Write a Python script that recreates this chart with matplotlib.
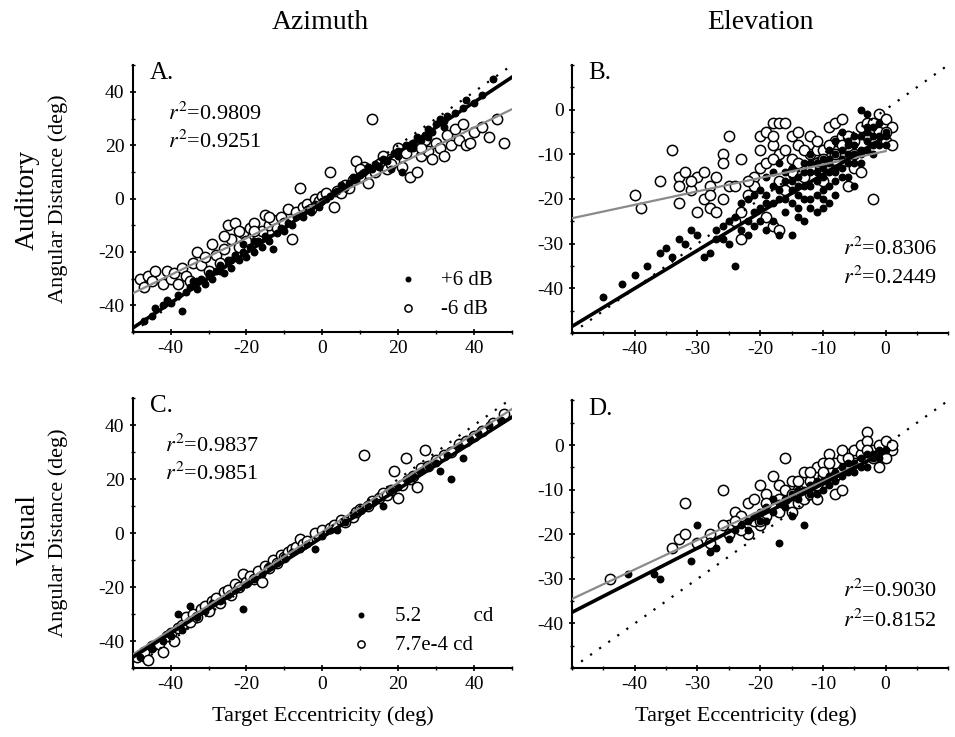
import numpy as np
import matplotlib
matplotlib.use("Agg")
import matplotlib.pyplot as plt

plt.rcParams['font.family'] = ['Liberation Serif', 'DejaVu Serif']
plt.rcParams['mathtext.fontset'] = 'stix'
plt.rcParams['axes.unicode_minus'] = False

# ---- data (deg) ----
# A: auditory azimuth, +6 dB (filled) / -6 dB (open)
a_pos_x = [-47, -45, -44, -42, -41, -40, -38, -37, -36, -35, -34, -33, -32, -31, -30, -29, -28, -27, -26, -25,
           -24, -23, -22, -21, -20, -19, -18, -17, -16, -15, -14, -13, -12, -11, -10, -9, -8, -7, -6, -5,
           -4, -3, -2, -1, 0, 1, 2, 3, 4, 5, 6, 7, 8, 9, 10, 11, 12, 13, 14, 15,
           16, 17, 18, 19, 20, 21, 22, 23, 24, 25, 26, 27, 28, 29, 30, 31, 32, 33, 35, 37,
           38, 40, 42, 45, -33, -30, -27, -24, -21, -18, 20, 24, 28, 32]
a_pos_y = [-46, -44, -41, -40, -38, -39, -36, -42, -35, -33, -31, -34, -30, -32, -28, -30, -27, -25, -28, -23,
           -26, -21, -23, -20, -22, -18, -20, -16, -18, -14, -16, -19, -13, -11, -12, -9, -10, -7, -6, -7,
           -4, -5, -2, -3, -1, 0, 1, 2, 3, 5, 4, 6, 8, 7, 9, 10, 12, 11, 13, 12,
           15, 14, 11, 17, 18, 10, 20, 19, 21, 23, 22, 24, 26, 25, 28, 30, 29, 31, 32, 34,
           37, 36, 39, 45, -31, -29, -27, -23, -17, -16, 16, 19, 23, 27]
a_neg_x = [-48, -47, -46, -45, -44, -42, -41, -40, -39, -38, -37, -36, -35, -34, -33, -32, -31, -30, -29, -28,
           -27, -26, -25, -24, -23, -22, -21, -20, -19, -18, -17, -16, -15, -14, -13, -12, -11, -10, -9, -8,
           -7, -6, -5, -4, -3, -2, -1, 0, 1, 2, 3, 4, 5, 6, 7, 8, 9, 10, 11, 12,
           13, 14, 15, 16, 17, 18, 19, 20, 21, 22, 23, 24, 25, 26, 27, 28, 29, 30, 31, 32,
           33, 34, 35, 36, 37, 38, 39, 40, 42, 44, 46, 48, -26, -22, -18, -14, 10, 18, 26]
a_neg_y = [-30, -33, -29, -31, -27, -32, -27, -30, -28, -32, -26, -29, -31, -24, -20, -25, -22, -27, -17, -21,
           -24, -19, -10, -15, -9, -18, -13, -16, -11, -9, -14, -12, -6, -10, -8, -11, -7, -9, -4, -15,
           -5, 4, -3, -2, -4, 0, -1, 1, 2, 10, -3, 3, 2, 5, 4, 7, 14, 8, 12, 6,
           30, 10, 13, 16, 11, 15, 14, 19, 12, 17, 8, 20, 10, 16, 22, 18, 15, 21, 19, 16,
           24, 20, 26, 22, 28, 20, 21, 25, 27, 23, 30, 21, -14, -12, -12, -7, 11, 13, 19]

# B: auditory elevation
b_pos_x = [-45, -42, -40, -38, -36, -35, -34, -33, -32, -31, -30, -29, -28, -27, -27, -26, -25, -24, -24, -23,
           -23, -22, -22, -21, -21, -20, -20, -19, -19, -18, -18, -18, -17, -17, -17, -16, -16, -15, -15, -15,
           -14, -14, -14, -13, -13, -13, -12, -12, -12, -11, -11, -11, -10, -10, -10, -9, -9, -9, -8, -8,
           -8, -7, -7, -7, -6, -6, -5, -5, -5, -4, -4, -4, -3, -3, -3, -2, -2, -1, -1, 0, 0,
           -19, -18, -17, -16, -16, -15, -15, -14, -14, -13, -13, -12, -12, -12, -11, -11, -10, -10, -10, -9,
           -9, -9, -8, -8, -8, -7, -7, -6, -6, -6, -5, -5, -4, -4, -3, -3, -2, -2, -1, 0,
           -20, -22, -21, -19, -25, -26]
b_pos_y = [-42, -39, -37, -35, -32, -31, -33, -29, -30, -27, -28, -33, -32, -29, -27, -26, -30, -35, -24, -27,
           -21, -25, -20, -19, -23, -18, -22, -15, -21, -14, -17, -25, -12, -20, -28, -16, -23, -18, -28, -13,
           -22, -15, -19, -12, -17, -25, -14, -20, -10, -23, -16, -12, -11, -18, -22, -14, -21, -9, -13, -16,
           -7, -15, -11, -5, -12, -8, -17, -10, -6, -9, 0, -12, -7, -1, -5, -8, -4, -6, -3, -5, -8,
           -19, -21, -18, -20, -14, -21, -16, -17, -24, -20, -14, -17, -22, -12, -14, -19, -13, -15, -20, -11,
           -17, -12, -10, -14, -19, -9, -13, -10, -15, -7, -8, -12, -6, -10, -9, -4, -6, -10, -8, -6,
           -25, -28, -26, -27, -25, -29]
b_neg_x = [-40, -39, -36, -34, -33, -33, -33, -32, -31, -30, -30, -29, -29, -28, -28, -27, -27, -26, -26, -26,
           -25, -25, -24, -23, -23, -23, -22, -21, -21, -20, -20, -19, -19, -18, -18, -18, -18, -17, -17, -17,
           -17, -16, -16, -15, -15, -14, -14, -13, -12, -12, -11, -11, -10, -10, -9, -9, -8, -8, -7, -7,
           -6, -6, -5, -5, -4, -4, -3, -2, -2, -1, -1, 0, 0, 1, 1,
           -20, -19, -18, -16, -15, -14, -13, -12, -11, -10, -9, -8, -7, -5, -3, -2, 0, -24, -22, -31, -28]
b_neg_y = [-19, -22, -16, -9, -15, -17, -21, -14, -18, -15, -23, -14, -20, -22, -17, -15, -23, -10, -12, -20,
           -6, -17, -25, -11, -23, -29, -19, -15, -17, -9, -6, -5, -24, -3, -8, -26, -6, -3, -10, -16,
           -27, -3, -18, -11, -14, -12, -8, -15, -6, -10, -9, -12, -9, -16, -4, -13, -3, -7, -2, -6,
           -6, -17, -13, -10, -14, -4, -3, -7, -20, -1, -5, -2, -7, -4, -8,
           -13, -12, -11, -9, -6, -5, -9, -13, -7, -11, -8, -10, -8, -7, -6, -3, -5, -17, -16, -16, -19]

# C: visual azimuth, 5.2 cd (filled) / 7.7e-4 cd (open)
c_pos_x = [-48, -45, -42, -40, -38, -37, -35, -33, -31, -29, -27, -25, -23, -21, -20, -18, -16, -14, -12, -10,
           -8, -6, -4, -2, 0, 2, 4, 6, 8, 10, 12, 14, 16, 18, 20, 22, 24, 26, 28, 30,
           31, 33, 34, 36, 37, 39, 41, 44, 47]
c_pos_y = [-46, -43, -40, -38, -30, -36, -27, -31, -29, -26, -25, -23, -21, -28, -19, -17, -15, -12, -11, -9,
           -7, -6, -4, -6, -1, 1, 1, 4, 7, 9, 10, 12, 10, 16, 17, 20, 21, 23, 25, 26,
           23, 29, 20, 32, 28, 35, 37, 40, 42]
c_neg_x = [-49, -47, -46, -45, -43, -42, -41, -40, -39, -38, -37, -36, -35, -34, -33, -32, -31, -30, -29, -28,
           -27, -26, -25, -24, -23, -22, -21, -20, -19, -18, -17, -16, -15, -14, -13, -12, -11, -10, -9, -8,
           -7, -6, -5, -4, -2, 0, 2, 3, 5, 6, 8, 9, 10, 11, 12, 13, 15, 16, 17, 18,
           19, 20, 21, 22, 23, 24, 25, 26, 27, 28, 30, 32, 34, 36, 38, 40, 42, 45, 48]
c_neg_y = [-46, -44, -47, -42, -41, -44, -38, -37, -40, -35, -34, -31, -33, -30, -31, -28, -27, -29, -25, -24,
           -26, -22, -21, -23, -19, -20, -15, -18, -16, -17, -14, -18, -12, -13, -10, -11, -8, -9, -7, -6,
           -5, -2, -4, -3, 0, 1, 2, 3, 5, 4, 6, 8, 9, 29, 10, 12, 13, 15, 14, 16,
           23, 13, 18, 28, 20, 21, 17, 24, 31, 25, 27, 29, 30, 33, 34, 36, 38, 41, 44]

# D: visual elevation
d_pos_x = [-41, -37, -36, -31, -30, -28, -27, -25, -24, -23, -22, -21, -20, -19, -18, -17, -17, -16, -15, -15,
           -14, -13, -13, -12, -11, -10, -9, -8, -7, -6, -5, -4, -3, -2, -1, 0,
           -22, -20, -19, -18, -16, -14, -12, -11, -10, -9, -8, -7, -6, -5, -4, -3, -2, -1]
d_pos_y = [-29, -29, -30, -26, -18, -24, -23, -21, -19, -18, -17, -16, -17, -14, -15, -22, -13, -12, -16, -11,
           -12, -18, -10, -9, -11, -8, -7, -8, -5, -6, -4, -3, -5, -2, -1, -1,
           -19, -15, -17, -12, -14, -10, -11, -8, -10, -9, -6, -7, -4, -6, -5, -2, -3, -3]
d_neg_x = [-44, -34, -33, -32, -32, -30, -28, -26, -25, -24, -23, -22, -22, -21, -20, -20, -19, -19, -18, -18,
           -17, -17, -16, -16, -15, -15, -14, -14, -13, -13, -12, -12, -11, -11, -10, -10, -9, -9, -8, -8,
           -7, -7, -6, -6, -5, -5, -4, -4, -3, -3, -2, -1, -1, 0, 1,
           -26, -24, -21, -19, -17, -16, -15, -14, -12, -11, -10, -9, -8, -7, -6, -4, -3, -2, -1, 0,
           1, -28, -25, -23, -20]
d_neg_y = [-30, -23, -21, -20, -13, -22, -20, -10, -18, -15, -16, -20, -13, -12, -18, -9, -11, -16, -7, -14,
           -9, -15, -3, -12, -8, -15, -10, -13, -6, -12, -8, -11, -5, -12, -4, -7, -2, -6, -11, -4,
           -3, -10, -2, -5, -1, -4, -2, 0, 3, 1, -1, -5, 0, 1, -1,
           -18, -17, -17, -13, -12, -10, -11, -8, -6, -9, -6, -4, -7, -1, -3, -4, -1, -3, -2, -3,
           0, -22, -20, -19, -17]

# regression lines (slope, intercept)
fit_a = [(0.94, -1.5), (0.69, -1.0)]
fit_b = [(0.85, -6.0), (0.30, -9.3)]
fit_c = [(0.89, -1.5), (0.91, 0.5)]
fit_d = [(0.72, -1.5), (0.66, -1.5)]
r2_a = ['0.9809', '0.9251']
r2_b = ['0.8306', '0.2449']
r2_c = ['0.9837', '0.9851']
r2_d = ['0.9030', '0.8152']

fig = plt.figure(figsize=(9.55, 7.37), dpi=100)
axA = fig.add_axes([0.139, 0.5495, 0.397, 0.362])
axB = fig.add_axes([0.599, 0.548, 0.394, 0.364])
axC = fig.add_axes([0.139, 0.0936, 0.397, 0.366])
axD = fig.add_axes([0.599, 0.0936, 0.394, 0.363])


def panel(ax, px, py, nx, ny, fits, xr, lims, labels=None):
    ax.scatter(nx, ny, s=55, facecolors='white', edgecolors='black', linewidths=1.1, zorder=2, label=labels[1] if labels else None)
    ax.scatter(px, py, s=22, color='black', zorder=3, label=labels[0] if labels else None)
    xx = np.array(xr)
    ax.plot(xx, fits[0][0] * xx + fits[0][1], color='black', lw=2.6, zorder=5)
    ax.plot(xx, fits[1][0] * xx + fits[1][1], color='#8a8a8a', lw=1.6, zorder=4)
    ax.plot(lims[0], lims[0], color='black', lw=1.6, ls=(0, (1, 4)), zorder=4)
    ax.set_xlim(lims[0])
    ax.set_ylim(lims[1])
    for s in ['top', 'right']:
        ax.spines[s].set_visible(False)
    for s in ['left', 'bottom']:
        ax.spines[s].set_linewidth(1.5)
    ax.tick_params(direction='inout', length=5, width=1.2, labelsize=14)
    ax.tick_params(which='minor', direction='inout', length=3, width=1)


panel(axA, a_pos_x, a_pos_y, a_neg_x, a_neg_y, fit_a, [-50, 50], [(-50, 50), (-50, 50)], ['+6 dB', '-6 dB'])
panel(axB, b_pos_x, b_pos_y, b_neg_x, b_neg_y, fit_b, [-50, 0], [(-50, 10), (-50, 10)])
panel(axC, c_pos_x, c_pos_y, c_neg_x, c_neg_y, fit_c, [-50, 50], [(-50, 50), (-50, 50)], ['5.2          cd', '7.7e-4 cd'])
panel(axD, d_pos_x, d_pos_y, d_neg_x, d_neg_y, fit_d, [-50, 0], [(-50, 10), (-50, 10)])

for ax in [axA, axC]:
    ax.set_xticks([-40, -20, 0, 20, 40])
    ax.set_yticks([-40, -20, 0, 20, 40])
    ax.set_xticks(np.arange(-50, 51, 10), minor=True)
    ax.set_yticks(np.arange(-50, 51, 10), minor=True)
for ax in [axB, axD]:
    ax.set_xticks([-40, -30, -20, -10, 0])
    ax.set_yticks([-40, -30, -20, -10, 0])
    ax.set_xticks(np.arange(-50, 11, 5), minor=True)
    ax.set_yticks(np.arange(-50, 11, 5), minor=True)

# legends
for ax in [axA, axC]:
    h, l = ax.get_legend_handles_labels()
    ax.legend(h[::-1], l[::-1], loc='lower right', bbox_to_anchor=(1.0, -0.02), frameon=False,
              fontsize=15, handletextpad=0.6, labelspacing=0.45, markerscale=0.7, scatterpoints=1)

# panel letters and r^2
for ax, lt, xy in [(axA, 'A.', (0.045, 0.97)), (axB, 'B.', (0.043, 0.97)),
                   (axC, 'C.', (0.045, 0.97)), (axD, 'D.', (0.043, 0.97))]:
    ax.text(xy[0], xy[1], lt, transform=ax.transAxes, fontsize=18, va='center', ha='left')

for ax, vals, x0, ys in [(axA, r2_a, 0.092, (0.82, 0.715)), (axB, r2_b, 0.72, (0.313, 0.205)),
                         (axC, r2_c, 0.085, (0.826, 0.72)), (axD, r2_d, 0.72, (0.289, 0.178))]:
    for v, y in zip(vals, ys):
        ax.text(x0, y, r'$r^{2}$=' + v, transform=ax.transAxes, fontsize=16, va='center', ha='left')

fig.text(0.335, 0.970, 'Azimuth', fontsize=20, ha='center', va='center')
fig.text(0.796, 0.970, 'Elevation', fontsize=20, ha='center', va='center')
fig.text(0.029, 0.729, 'Auditory', fontsize=20, rotation=90, ha='center', va='center')
fig.text(0.029, 0.281, 'Visual', fontsize=20, rotation=90, ha='center', va='center')
fig.text(0.061, 0.731, 'Angular Distance (deg)', fontsize=16, rotation=90, ha='center', va='center')
fig.text(0.061, 0.277, 'Angular Distance (deg)', fontsize=16, rotation=90, ha='center', va='center')
fig.text(0.338, 0.028, 'Target Eccentricity (deg)', fontsize=16, ha='center', va='center')
fig.text(0.781, 0.028, 'Target Eccentricity (deg)', fontsize=16, ha='center', va='center')

fig.savefig('out.png', dpi=100)
